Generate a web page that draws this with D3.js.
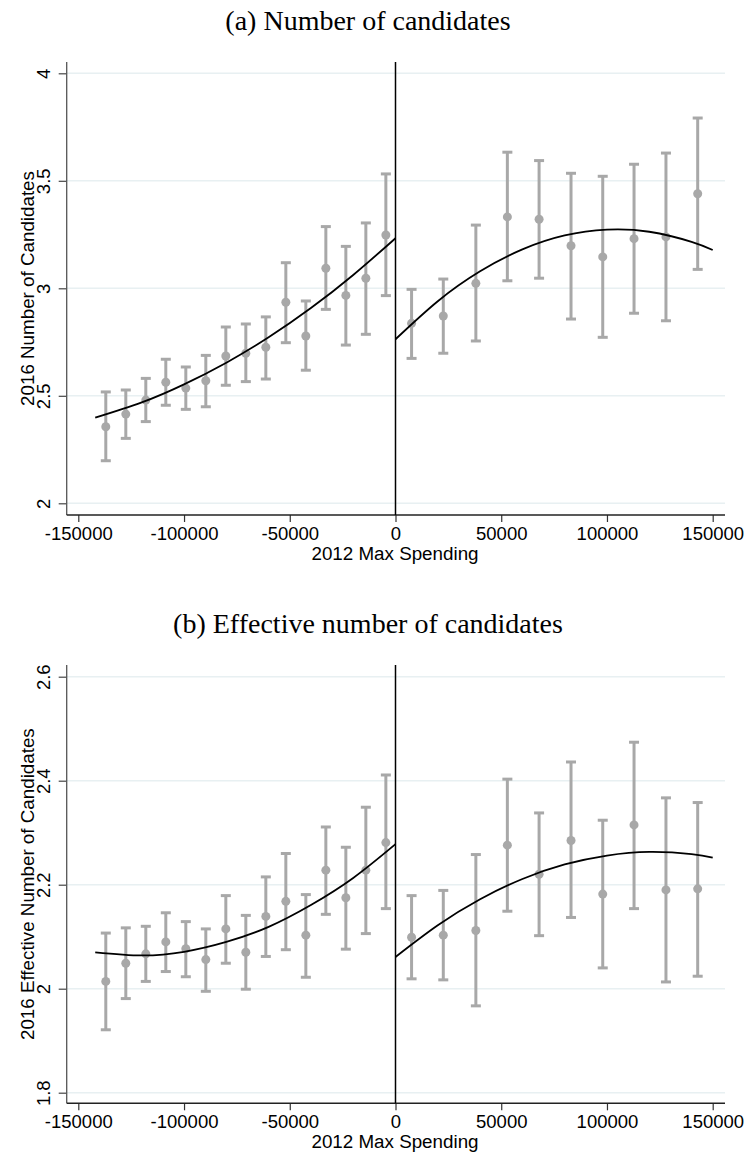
<!DOCTYPE html>
<html>
<head>
<meta charset="utf-8">
<script src="https://cdn.jsdelivr.net/npm/d3@7"></script>
<style>
  html, body { margin: 0; padding: 0; background: #fff; }
  svg { display: block; }
</style>
</head>
<body>
<svg id="chart" width="746" height="1172"></svg>
<script>
// ---------- data ----------
const xTickValues = [-150000, -100000, -50000, 0, 50000, 100000, 150000];

const binXLeft = [-137000, -127540, -118080, -108620, -99160, -89700, -80240, -70780, -61320, -51860, -42400, -32940, -23480, -14020, -4560];
const binXRight = [7600, 22600, 38000, 52900, 67900, 83000, 98000, 112800, 127900, 142900];

const fitXLeft = [-142000, -120000, -100000, -80000, -60000, -40000, -20000, 0];
const fitXRight = [0, 20000, 40000, 60000, 80000, 100000, 120000, 140000, 150000];

// Panel (a): Number of candidates
const titleA = "(a) Number of candidates";
const yLabelA = "2016 Number of Candidates";
const yTicksA = [2, 2.5, 3, 3.5, 4];
const yTickLabelsA = ["2", "2.5", "3", "3.5", "4"];
const numLeftMean = [2.356, 2.415, 2.480, 2.563, 2.536, 2.570, 2.685, 2.698, 2.726, 2.935, 2.778, 3.093, 2.967, 3.047, 3.248];
const numLeftLo   = [2.198, 2.302, 2.380, 2.456, 2.437, 2.449, 2.549, 2.566, 2.578, 2.747, 2.619, 2.902, 2.736, 2.786, 2.966];
const numLeftHi   = [2.518, 2.527, 2.581, 2.670, 2.634, 2.688, 2.820, 2.834, 2.867, 3.119, 2.941, 3.287, 3.195, 3.304, 3.532];
const numRightMean = [2.837, 2.871, 3.023, 3.332, 3.321, 3.198, 3.146, 3.231, 3.239, 3.440];
const numRightLo   = [2.674, 2.698, 2.755, 3.035, 3.047, 2.857, 2.772, 2.884, 2.849, 3.088];
const numRightHi   = [2.995, 3.043, 3.294, 3.633, 3.594, 3.535, 3.521, 3.577, 3.629, 3.792];
const numFitLeft  = [2.398, 2.469, 2.553, 2.654, 2.772, 2.908, 3.062, 3.233];
const numFitRight = [2.763, 2.940, 3.079, 3.181, 3.246, 3.273, 3.263, 3.216, 3.178];

// Panel (b): Effective number of candidates
const titleB = "(b) Effective number of candidates";
const yLabelB = "2016 Effective Number of Candidates";
const yTicksB = [1.8, 2, 2.2, 2.4, 2.6];
const yTickLabelsB = ["1.8", "2", "2.2", "2.4", "2.6"];
const effLeftMean = [2.014, 2.049, 2.067, 2.090, 2.077, 2.056, 2.115, 2.070, 2.139, 2.168, 2.103, 2.228, 2.175, 2.228, 2.281];
const effLeftLo   = [1.921, 1.981, 2.014, 2.033, 2.023, 1.995, 2.049, 1.999, 2.062, 2.075, 2.022, 2.143, 2.076, 2.106, 2.154];
const effLeftHi   = [2.107, 2.117, 2.120, 2.146, 2.129, 2.115, 2.179, 2.141, 2.215, 2.260, 2.181, 2.311, 2.272, 2.349, 2.411];
const effRightMean = [2.099, 2.103, 2.112, 2.276, 2.220, 2.285, 2.182, 2.315, 2.190, 2.192];
const effRightLo   = [2.019, 2.017, 1.967, 2.149, 2.102, 2.137, 2.040, 2.154, 2.013, 2.024];
const effRightHi   = [2.179, 2.189, 2.258, 2.403, 2.338, 2.436, 2.324, 2.474, 2.367, 2.358];
const effFitLeft  = [2.070, 2.064, 2.071, 2.090, 2.119, 2.161, 2.213, 2.278];
const effFitRight = [2.061, 2.122, 2.172, 2.211, 2.239, 2.256, 2.263, 2.259, 2.252];

const xAxisTitle = "2012 Max Spending";

// ---------- drawing ----------
const svg = d3.select("#chart");
svg.append("rect").attr("width", 746).attr("height", 1172).attr("fill", "#fff");

const GRAY = "#a8a8a8";
const SANS = "Liberation Sans, Arial, sans-serif";
const SERIF = "Liberation Serif, Times New Roman, serif";

function drawPanel(cfg) {
  const g = svg.append("g");
  const left = 66.7, right = 725;
  const x = d3.scaleLinear().domain([-150000, 150000]).range([78.3, 712.7]);
  const y = d3.scaleLinear().domain(cfg.yDomain).range(cfg.yRange);

  // title
  g.append("text")
    .attr("x", 368).attr("y", cfg.titleY)
    .attr("text-anchor", "middle")
    .attr("font-family", SERIF).attr("font-size", 28)
    .attr("fill", "#000")
    .text(cfg.title);

  // gridlines
  g.append("g").selectAll("line").data(cfg.yTicks).join("line")
    .attr("x1", left).attr("x2", right)
    .attr("y1", d => y(d)).attr("y2", d => y(d))
    .attr("stroke", "#e8f0f2").attr("stroke-width", 1.5);

  // y axis
  const yAxis = d3.axisLeft(y).tickValues(cfg.yTicks)
    .tickFormat((d, i) => cfg.yTickLabels[i]).tickSize(8).tickSizeOuter(0);
  const ya = g.append("g").attr("transform", `translate(${left},0)`).call(yAxis);
  ya.select(".domain").remove();
  ya.selectAll(".tick line").attr("stroke", "#444").attr("stroke-width", 1.2);
  ya.selectAll(".tick text")
    .attr("font-family", SANS).attr("font-size", 18.5).attr("fill", "#000")
    .attr("x", null).attr("dy", null)
    .attr("text-anchor", "middle")
    .attr("transform", "translate(-16.7,0) rotate(-90)");
  g.append("line").attr("x1", left).attr("x2", left)
    .attr("y1", cfg.plotTop).attr("y2", cfg.plotBottom)
    .attr("stroke", "#555").attr("stroke-width", 1.3);

  // x axis
  const xAxis = d3.axisBottom(x).tickValues(xTickValues)
    .tickFormat(d => String(d)).tickSize(7).tickSizeOuter(0);
  const xa = g.append("g").attr("transform", `translate(0,${cfg.plotBottom})`).call(xAxis);
  xa.select(".domain").remove();
  xa.selectAll(".tick line").attr("stroke", "#333").attr("stroke-width", 1.2);
  xa.selectAll(".tick text")
    .attr("font-family", SANS).attr("font-size", 18.5).attr("fill", "#000")
    .attr("y", 25).attr("dy", null);
  g.append("line").attr("x1", left).attr("x2", right)
    .attr("y1", cfg.plotBottom).attr("y2", cfg.plotBottom)
    .attr("stroke", "#222").attr("stroke-width", 1.5);

  // axis titles
  g.append("text")
    .attr("x", 395).attr("y", cfg.plotBottom + 45)
    .attr("text-anchor", "middle")
    .attr("font-family", SANS).attr("font-size", 18.8).attr("fill", "#000")
    .text(xAxisTitle);
  g.append("text")
    .attr("transform", `translate(33.5,${(cfg.plotTop + cfg.plotBottom) / 2}) rotate(-90)`)
    .attr("text-anchor", "middle")
    .attr("font-family", SANS).attr("font-size", 18.8).attr("fill", "#000")
    .text(cfg.yLabel);

  // cutoff line
  g.append("line").attr("x1", x(0)).attr("x2", x(0))
    .attr("y1", cfg.plotTop).attr("y2", cfg.plotBottom)
    .attr("stroke", "#000").attr("stroke-width", 1.5);

  // error bars + points
  function drawBins(xs, mean, lo, hi) {
    const data = xs.map((xv, i) => ({ x: xv, m: mean[i], lo: lo[i], hi: hi[i] }));
    const bg = g.append("g");
    bg.selectAll("line.v").data(data).join("line").attr("class", "v")
      .attr("x1", d => x(d.x)).attr("x2", d => x(d.x))
      .attr("y1", d => y(d.lo)).attr("y2", d => y(d.hi))
      .attr("stroke", GRAY).attr("stroke-width", 3);
    bg.selectAll("line.ct").data(data).join("line").attr("class", "ct")
      .attr("x1", d => x(d.x) - 5).attr("x2", d => x(d.x) + 5)
      .attr("y1", d => y(d.hi)).attr("y2", d => y(d.hi))
      .attr("stroke", GRAY).attr("stroke-width", 3);
    bg.selectAll("line.cb").data(data).join("line").attr("class", "cb")
      .attr("x1", d => x(d.x) - 5).attr("x2", d => x(d.x) + 5)
      .attr("y1", d => y(d.lo)).attr("y2", d => y(d.lo))
      .attr("stroke", GRAY).attr("stroke-width", 3);
    bg.selectAll("circle").data(data).join("circle")
      .attr("cx", d => x(d.x)).attr("cy", d => y(d.m)).attr("r", 4.5)
      .attr("fill", GRAY);
  }
  drawBins(binXLeft, cfg.leftMean, cfg.leftLo, cfg.leftHi);
  drawBins(binXRight, cfg.rightMean, cfg.rightLo, cfg.rightHi);

  // fitted lines
  const line = d3.line().x(d => x(d[0])).y(d => y(d[1])).curve(d3.curveNatural);
  g.append("path").datum(fitXLeft.map((xv, i) => [xv, cfg.fitLeft[i]]))
    .attr("d", line).attr("fill", "none").attr("stroke", "#000").attr("stroke-width", 1.8);
  g.append("path").datum(fitXRight.map((xv, i) => [xv, cfg.fitRight[i]]))
    .attr("d", line).attr("fill", "none").attr("stroke", "#000").attr("stroke-width", 1.8);
}

drawPanel({
  title: titleA, titleY: 30, yLabel: yLabelA,
  yTicks: yTicksA, yTickLabels: yTickLabelsA,
  yDomain: [2, 4], yRange: [503.3, 73.3],
  plotTop: 62, plotBottom: 515,
  leftMean: numLeftMean, leftLo: numLeftLo, leftHi: numLeftHi,
  rightMean: numRightMean, rightLo: numRightLo, rightHi: numRightHi,
  fitLeft: numFitLeft, fitRight: numFitRight
});

drawPanel({
  title: titleB, titleY: 633, yLabel: yLabelB,
  yTicks: yTicksB, yTickLabels: yTickLabelsB,
  yDomain: [1.8, 2.6], yRange: [1092.7, 676.7],
  plotTop: 665, plotBottom: 1103.3,
  leftMean: effLeftMean, leftLo: effLeftLo, leftHi: effLeftHi,
  rightMean: effRightMean, rightLo: effRightLo, rightHi: effRightHi,
  fitLeft: effFitLeft, fitRight: effFitRight
});
</script>
</body>
</html>
